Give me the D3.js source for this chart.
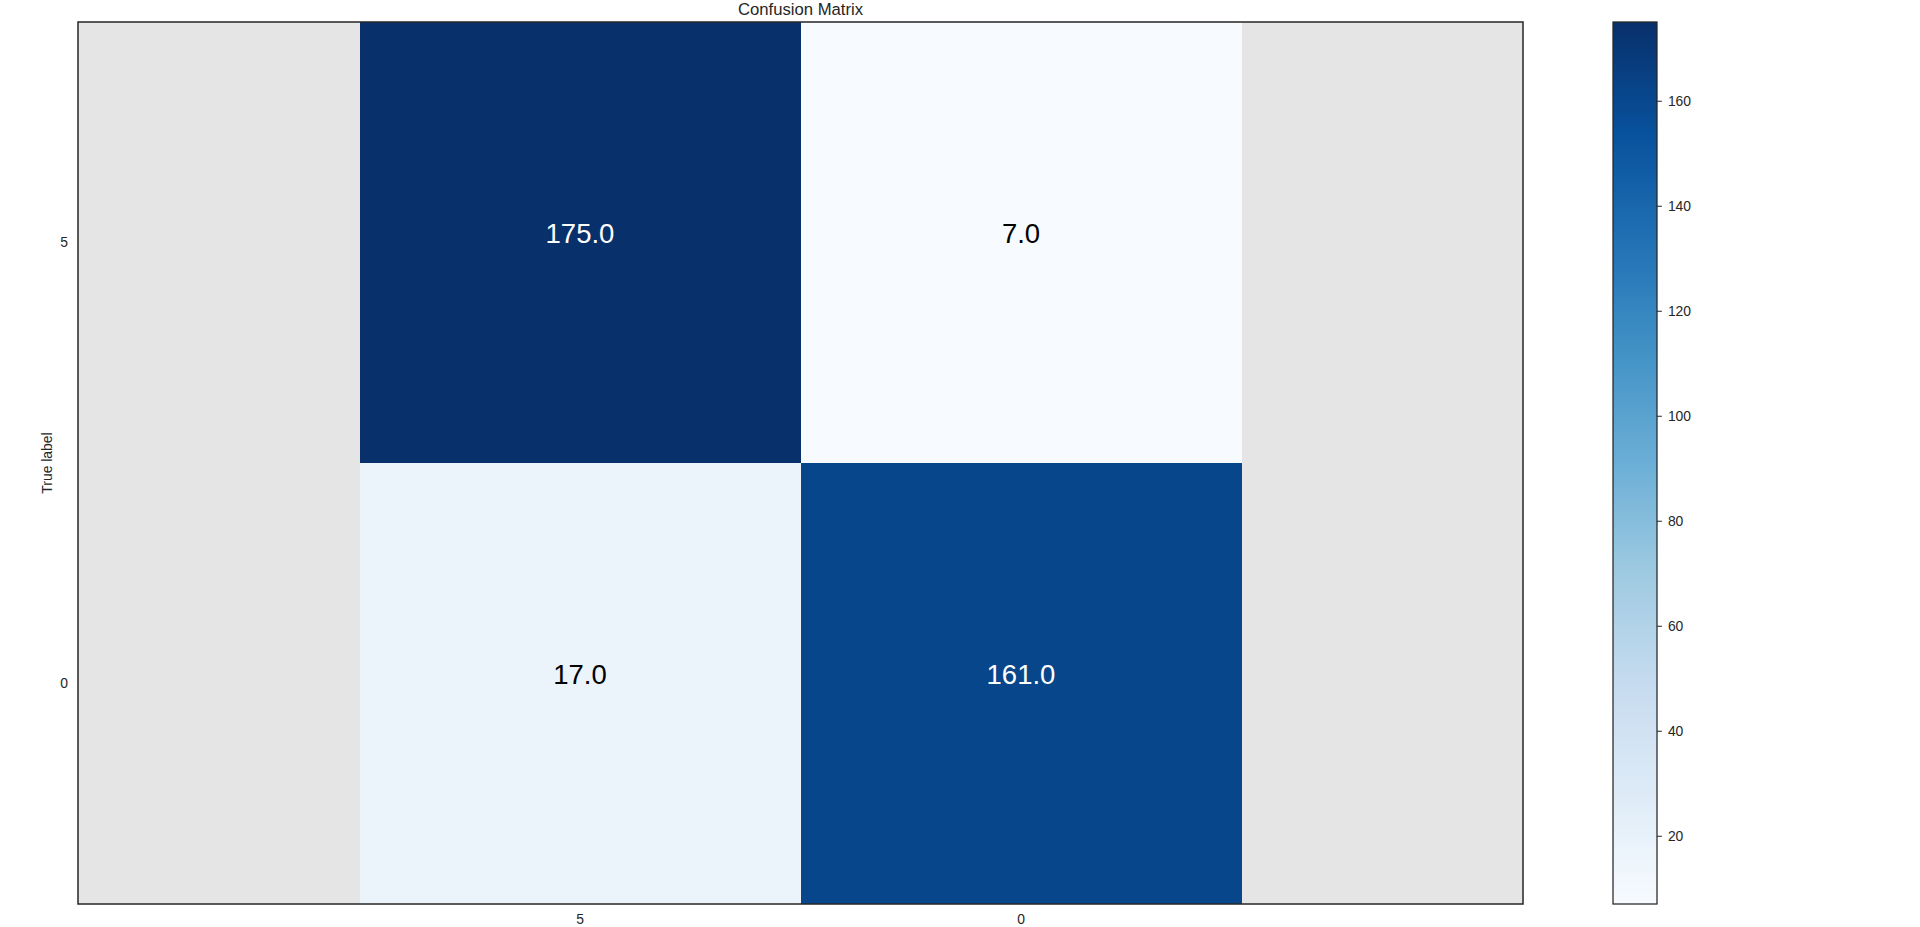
<!DOCTYPE html>
<html>
<head>
<meta charset="utf-8">
<script src="https://cdn.jsdelivr.net/npm/d3@7"></script>
<style>
  html, body { margin: 0; padding: 0; background: #ffffff; }
  svg { display: block; font-family: "Liberation Sans", Arial, sans-serif; }
</style>
</head>
<body>
<svg id="chart" width="1920" height="927"></svg>
<script>
// ---- data ----
const title = "Confusion Matrix";
const trueLabels = ["5", "0"];
const predLabels = ["5", "0"];
const row5 = [175, 7];
const row0 = [17, 161];
const matrixRows = [row5, row0];
const colorbarTicks = [20, 40, 60, 80, 100, 120, 140, 160];
const yAxisTitle = "True label";
// matplotlib "Blues" colormap anchor colours
const bluesStops = ["#f7fbff", "#deebf7", "#c6dbef", "#9ecae1", "#6baed6", "#4292c6", "#2171b5", "#08519c", "#08306b"];

// ---- layout ----
const svg = d3.select("#chart");
const axL = 78, axR = 1523, axT = 22, axB = 904;
const side = axB - axT;
const cellsL = (axL + axR) / 2 - side / 2;
const cbL = 1613, cbR = 1657;
const textColor = "#262626";

const cells = [];
matrixRows.forEach((row, i) => row.forEach((v, j) => cells.push({ t: trueLabels[i], p: predLabels[j], v })));
const allVals = cells.map(d => d.v);
const vmin = d3.min(allVals), vmax = d3.max(allVals);

const norm = d3.scaleLinear().domain([vmin, vmax]).range([0, 1]);
const cmap = d3.scaleLinear()
  .domain(bluesStops.map((_, i) => i / (bluesStops.length - 1)))
  .range(bluesStops)
  .interpolate(d3.interpolateRgb)
  .clamp(true);
const color = v => cmap(norm(v));

const x = d3.scaleBand().domain(predLabels).range([cellsL, cellsL + side]);
const y = d3.scaleBand().domain(trueLabels).range([axT, axB]);

// axes background
svg.append("rect")
  .attr("x", axL).attr("y", axT)
  .attr("width", axR - axL).attr("height", axB - axT)
  .attr("fill", "#e5e5e5");

// heatmap cells
svg.append("g").selectAll("rect").data(cells).join("rect")
  .attr("x", d => x(d.p))
  .attr("y", d => y(d.t))
  .attr("width", x.bandwidth())
  .attr("height", y.bandwidth())
  .attr("fill", d => color(d.v))
  .attr("shape-rendering", "crispEdges");

// cell annotations
const thresh = vmax / 2;
svg.append("g").selectAll("text").data(cells).join("text")
  .attr("x", d => x(d.p) + x.bandwidth() / 2)
  .attr("y", d => y(d.t) + y.bandwidth() / 2 + 0.5)
  .attr("text-anchor", "middle")
  .attr("font-size", "27.5px")
  .attr("fill", d => d.v > thresh ? "#ffffff" : "#000000")
  .text(d => d.v.toFixed(1));

// frame
svg.append("rect")
  .attr("x", axL).attr("y", axT)
  .attr("width", axR - axL).attr("height", axB - axT)
  .attr("fill", "none")
  .attr("stroke", textColor)
  .attr("stroke-width", 1.5);

// x tick labels (no tick marks)
svg.append("g").selectAll("text").data(predLabels).join("text")
  .attr("x", d => x(d) + x.bandwidth() / 2)
  .attr("y", 924)
  .attr("text-anchor", "middle")
  .attr("font-size", "13.9px")
  .attr("fill", textColor)
  .text(d => d);

// y tick labels
svg.append("g").selectAll("text").data(trueLabels).join("text")
  .attr("x", 68)
  .attr("y", d => y(d) + y.bandwidth() / 2)
  .attr("dy", "0.35em")
  .attr("text-anchor", "end")
  .attr("font-size", "13.9px")
  .attr("fill", textColor)
  .text(d => d);

// y axis title
svg.append("text")
  .attr("transform", `translate(52,${(axT + axB) / 2}) rotate(-90)`)
  .attr("text-anchor", "middle")
  .attr("font-size", "13.9px")
  .attr("fill", textColor)
  .text(yAxisTitle);

// title
svg.append("text")
  .attr("x", (axL + axR) / 2)
  .attr("y", 15)
  .attr("text-anchor", "middle")
  .attr("font-size", "16.7px")
  .attr("fill", textColor)
  .text(title);

// ---- colorbar ----
const cbScale = d3.scaleLinear().domain([vmin, vmax]).range([axB, axT]);
const defs = svg.append("defs");
const grad = defs.append("linearGradient")
  .attr("id", "cbgrad")
  .attr("x1", 0).attr("y1", 1).attr("x2", 0).attr("y2", 0);
d3.range(0, 1.0001, 1 / 64).forEach(t => {
  grad.append("stop").attr("offset", t).attr("stop-color", cmap(t));
});
svg.append("rect")
  .attr("x", cbL).attr("y", axT)
  .attr("width", cbR - cbL).attr("height", axB - axT)
  .attr("fill", "url(#cbgrad)");
svg.append("rect")
  .attr("x", cbL).attr("y", axT)
  .attr("width", cbR - cbL).attr("height", axB - axT)
  .attr("fill", "none")
  .attr("stroke", textColor)
  .attr("stroke-width", 1.25);

const cbAxis = d3.axisRight(cbScale)
  .tickValues(colorbarTicks)
  .tickSize(4.9)
  .tickPadding(6)
  .tickFormat(d3.format("d"));
const cbg = svg.append("g")
  .attr("transform", `translate(${cbR},0)`)
  .call(cbAxis);
cbg.select(".domain").remove();
cbg.selectAll(".tick line").attr("stroke", textColor).attr("stroke-width", 1);
cbg.selectAll(".tick text")
  .attr("fill", textColor)
  .attr("font-size", "13.9px")
  .attr("font-family", "Liberation Sans, Arial, sans-serif");
</script>
</body>
</html>
